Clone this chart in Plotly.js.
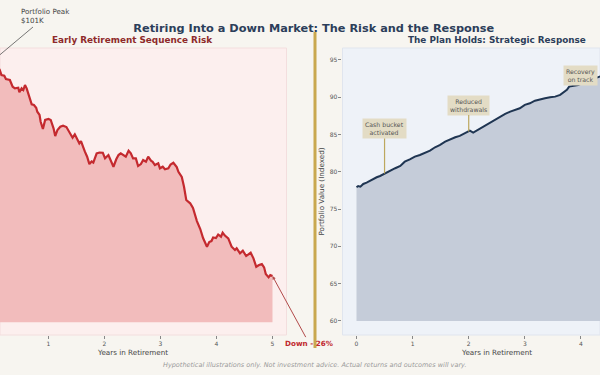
<!DOCTYPE html>
<html>
<head>
<meta charset="utf-8">
<script src="https://cdn.plot.ly/plotly-3.0.1.min.js"></script>
<style>html,body{margin:0;padding:0;background:#f7f5f0;}#chart{width:600px;height:375px;}</style>
</head>
<body>
<div id="chart"></div>
<script>
// ---- Data ----
const LEFT_YEARS = [0, 0.06, 0.13, 0.16, 0.21, 0.24, 0.31, 0.36, 0.40, 0.46,
  0.48, 0.52, 0.55, 0.58, 0.61, 0.66, 0.70, 0.74, 0.78, 0.80,
  0.84, 0.86, 0.90, 0.94, 1.00, 1.04, 1.09, 1.12, 1.16, 1.21,
  1.26, 1.32, 1.35, 1.40, 1.43, 1.47, 1.51, 1.55, 1.58, 1.61,
  1.65, 1.69, 1.73, 1.77, 1.80, 1.86, 1.91, 1.97, 2.01, 2.07,
  2.13, 2.16, 2.21, 2.25, 2.29, 2.34, 2.38, 2.43, 2.47, 2.51,
  2.56, 2.60, 2.65, 2.69, 2.74, 2.78, 2.83, 2.86, 2.90, 2.96,
  2.99, 3.04, 3.08, 3.14, 3.18, 3.23, 3.29, 3.32, 3.38, 3.42,
  3.46, 3.53, 3.58, 3.65, 3.71, 3.76, 3.83, 3.87, 3.91, 3.94,
  3.99, 4.03, 4.08, 4.11, 4.15, 4.21, 4.27, 4.33, 4.36, 4.42,
  4.47, 4.53, 4.57, 4.61, 4.66, 4.71, 4.76, 4.81, 4.85, 4.88,
  4.93, 4.96, 5.00];
const LEFT_VALUES = [101.0, 100.63, 99.90, 99.29, 99.21, 98.80, 98.68, 97.86, 97.67, 97.74,
  97.18, 97.67, 97.46, 98.07, 97.67, 96.45, 95.71, 95.63, 95.30, 94.81,
  94.41, 93.59, 92.70, 93.80, 93.92, 93.80, 92.78, 91.84, 92.58, 92.98,
  93.10, 92.94, 92.58, 92.09, 91.64, 92.05, 91.56, 90.95, 91.23, 90.54,
  89.93, 89.32, 88.42, 88.73, 88.61, 89.73, 89.83, 89.80, 89.12, 89.52,
  88.58, 88.09, 89.00, 89.52, 89.73, 89.52, 89.32, 90.05, 89.73, 89.12,
  89.12, 88.18, 88.42, 88.91, 88.70, 89.32, 88.83, 88.70, 88.30, 88.51,
  87.90, 88.09, 87.78, 87.90, 88.36, 88.58, 88.06, 87.48, 86.84, 85.65,
  84.03, 83.63, 83.05, 81.46, 80.49, 79.39, 78.33, 78.90, 79.02, 79.45,
  79.39, 79.82, 79.55, 80.04, 79.69, 79.35, 78.33, 77.92, 78.13, 77.52,
  77.84, 77.19, 77.43, 77.59, 76.91, 75.88, 76.09, 76.21, 75.81, 74.99,
  74.59, 74.87, 74.74];
const LEFT_FLOOR = 69.1;

const RIGHT_YEARS = [0, 0.03, 0.07, 0.12, 0.18, 0.24, 0.30, 0.36, 0.42,
  0.51, 0.60, 0.69, 0.78, 0.86, 0.95,
  1.04, 1.13, 1.22, 1.31, 1.40, 1.49, 1.58, 1.67, 1.76, 1.84, 1.92,
  1.99, 2.02, 2.08, 2.14, 2.20, 2.29, 2.38, 2.47, 2.56, 2.65, 2.74, 2.83, 2.91,
  3.00, 3.09, 3.18, 3.27, 3.36, 3.45, 3.54, 3.63, 3.69, 3.75, 3.79, 3.86, 3.95,
  4.04, 4.13, 4.22, 4.31, 4.40];
const RIGHT_VALUES = [77.93, 78.10, 78.01, 78.37, 78.55, 78.81, 79.00, 79.27, 79.44,
  79.81, 80.11, 80.48, 80.79, 81.36, 81.68,
  82.03, 82.26, 82.57, 82.84, 83.29, 83.60, 84.04, 84.37, 84.63, 84.81, 85.17,
  85.38, 85.52, 85.25, 85.52, 85.71, 86.15, 86.51, 86.95, 87.32, 87.76, 88.07, 88.29, 88.52,
  88.97, 89.19, 89.54, 89.73, 89.86, 90.00, 90.08, 90.31, 90.61, 90.98, 91.42, 91.51, 91.65,
  91.96, 92.22, 92.41, 92.68, 92.95];
const RIGHT_FLOOR = 60;

const LEFT_XTICKS = [1, 2, 3, 4, 5];
const RIGHT_XTICKS = [0, 1, 2, 3, 4];
const RIGHT_YTICKS = [60, 65, 70, 75, 80, 85, 90, 95];

const TITLE = 'Retiring Into a Down Market: The Risk and the Response';
const LEFT_SUBTITLE = 'Early Retirement Sequence Risk';
const RIGHT_SUBTITLE = 'The Plan Holds: Strategic Response';
const X_TITLE = 'Years in Retirement';
const Y_TITLE = 'Portfolio Value (Indexed)';
const FOOTER = 'Hypothetical illustrations only. Not investment advice. Actual returns and outcomes will vary.';

// ---- Traces ----
const traces = [
  {x: [LEFT_YEARS[0], LEFT_YEARS[LEFT_YEARS.length-1]], y: [LEFT_FLOOR, LEFT_FLOOR],
   xaxis: 'x', yaxis: 'y', mode: 'lines', line: {width: 0, color: 'rgba(0,0,0,0)'}, hoverinfo: 'skip'},
  {x: LEFT_YEARS, y: LEFT_VALUES, xaxis: 'x', yaxis: 'y', mode: 'lines',
   fill: 'tonexty', fillcolor: '#f2bcbc', line: {color: '#c42a2f', width: 2.2}},
  {x: [RIGHT_YEARS[0], RIGHT_YEARS[RIGHT_YEARS.length-1]], y: [RIGHT_FLOOR, RIGHT_FLOOR],
   xaxis: 'x2', yaxis: 'y2', mode: 'lines', line: {width: 0, color: 'rgba(0,0,0,0)'}, hoverinfo: 'skip'},
  {x: RIGHT_YEARS, y: RIGHT_VALUES, xaxis: 'x2', yaxis: 'y2', mode: 'lines',
   fill: 'tonexty', fillcolor: '#c5ccd9', line: {color: '#1f3552', width: 2}}
];

const tickStyle = {ticks: 'outside', ticklen: 3, tickwidth: 1, tickcolor: '#888',
  tickfont: {size: 6, color: '#555'}, showgrid: false, zeroline: false, showline: false};

const boxNote = {font: {size: 6.2, color: '#555'}, bgcolor: '#e3dcc5', borderpad: 2,
  showarrow: true, arrowhead: 0, arrowwidth: 1.2, arrowcolor: '#bda85e', ax: 0};

const layout = {
  width: 600, height: 375,
  paper_bgcolor: '#f7f5f0', plot_bgcolor: 'rgba(0,0,0,0)',
  margin: {l: 0, r: 0, t: 48, b: 40, pad: 0},
  showlegend: false,
  font: {family: 'DejaVu Sans', color: '#555'},
  title: {text: '<b>' + TITLE + '</b>', x: 0.523, xanchor: 'center', y: 0.925, yanchor: 'middle',
          font: {size: 11.3, color: '#2c3e5a', family: 'DejaVu Sans'}},
  xaxis: Object.assign({domain: [0, 0.4775], range: [0.134, 5.25], tickvals: LEFT_XTICKS, anchor: 'y'}, tickStyle),
  yaxis: {domain: [0, 1], range: [67.55, 102.59], showticklabels: false, ticks: '', showgrid: false, zeroline: false, anchor: 'x'},
  xaxis2: Object.assign({domain: [0.5708, 1], range: [-0.25, 4.34], tickvals: RIGHT_XTICKS, anchor: 'y2'}, tickStyle),
  yaxis2: Object.assign({domain: [0, 1], range: [58.12, 96.6], tickvals: RIGHT_YTICKS, anchor: 'x2'}, tickStyle),
  shapes: [
    {type: 'rect', xref: 'x domain', yref: 'y domain', x0: 0, x1: 1, y0: 0, y1: 1, layer: 'below',
     fillcolor: '#fcefee', line: {color: '#f3dede', width: 1}},
    {type: 'rect', xref: 'x2 domain', yref: 'y2 domain', x0: 0, x1: 1, y0: 0, y1: 1, layer: 'below',
     fillcolor: '#eef2f8', line: {color: '#e0e5ee', width: 1}},
    {type: 'line', xref: 'paper', yref: 'paper', x0: 0.525, x1: 0.525, y0: -0.045, y1: 1.056,
     line: {color: '#c9a84f', width: 3}},
    // connector for the "Portfolio Peak" note
    {type: 'line', xref: 'paper', yref: 'paper', x0: 0.055, y0: 1.0732, x1: -0.0125, y1: 0.9547,
     line: {color: '#555', width: 0.8}}
  ],
  annotations: [
    {text: '<b>' + LEFT_SUBTITLE + '</b>', xref: 'paper', yref: 'paper', x: 0.2208, y: 1.028,
     showarrow: false, font: {size: 8.85, color: '#8e2a2a'}, xanchor: 'center', yanchor: 'middle'},
    {text: '<b>' + RIGHT_SUBTITLE + '</b>', xref: 'paper', yref: 'paper', x: 0.8283, y: 1.028,
     showarrow: false, font: {size: 8.85, color: '#2c3e5a'}, xanchor: 'center', yanchor: 'middle'},
    {text: X_TITLE, xref: 'paper', yref: 'paper', x: 0.2208, y: -0.0627, showarrow: false,
     font: {size: 7.2, color: '#444'}, xanchor: 'center', yanchor: 'middle'},
    {text: X_TITLE, xref: 'paper', yref: 'paper', x: 0.8283, y: -0.0627, showarrow: false,
     font: {size: 7.2, color: '#444'}, xanchor: 'center', yanchor: 'middle'},
    {text: Y_TITLE, xref: 'paper', yref: 'paper', x: 0.535, y: 0.5, textangle: -90, showarrow: false,
     font: {size: 7.2, color: '#444'}, xanchor: 'center', yanchor: 'middle'},
    {text: '<i>' + FOOTER + '</i>', xref: 'paper', yref: 'paper', x: 0.525, y: -0.1045, showarrow: false,
     font: {size: 6.5, color: '#999'}, xanchor: 'center', yanchor: 'middle'},
    {text: 'Portfolio Peak<br>$101K', align: 'left', xref: 'paper', yref: 'paper', x: 0.031, y: 1.1115,
     xanchor: 'left', yanchor: 'middle', showarrow: false, font: {size: 7.1, color: '#444'}},
    {text: '<b>Down - 26%</b>', xref: 'x', yref: 'y', x: LEFT_YEARS[LEFT_YEARS.length-1], y: LEFT_VALUES[LEFT_VALUES.length-1],
     showarrow: true, arrowhead: 2, arrowsize: 0.7, arrowwidth: 1, arrowcolor: '#b24a4a', ax: 36.5, ay: 67,
     font: {size: 7.2, color: '#c0282e'}},
    Object.assign({text: 'Cash bucket<br>activated', xref: 'x2', yref: 'y2', x: 0.5, y: 79.78, ay: -45}, boxNote),
    Object.assign({text: 'Reduced<br>withdrawals', xref: 'x2', yref: 'y2', x: 2.0, y: 85.4, ay: -26.5}, boxNote),
    Object.assign({}, boxNote, {text: 'Recovery<br>on track', xref: 'x2', yref: 'y2', x: 4.0, y: 92.85, showarrow: false})
  ]
};

Plotly.newPlot('chart', traces, layout, {staticPlot: true, displayModeBar: false});
</script>
</body>
</html>
